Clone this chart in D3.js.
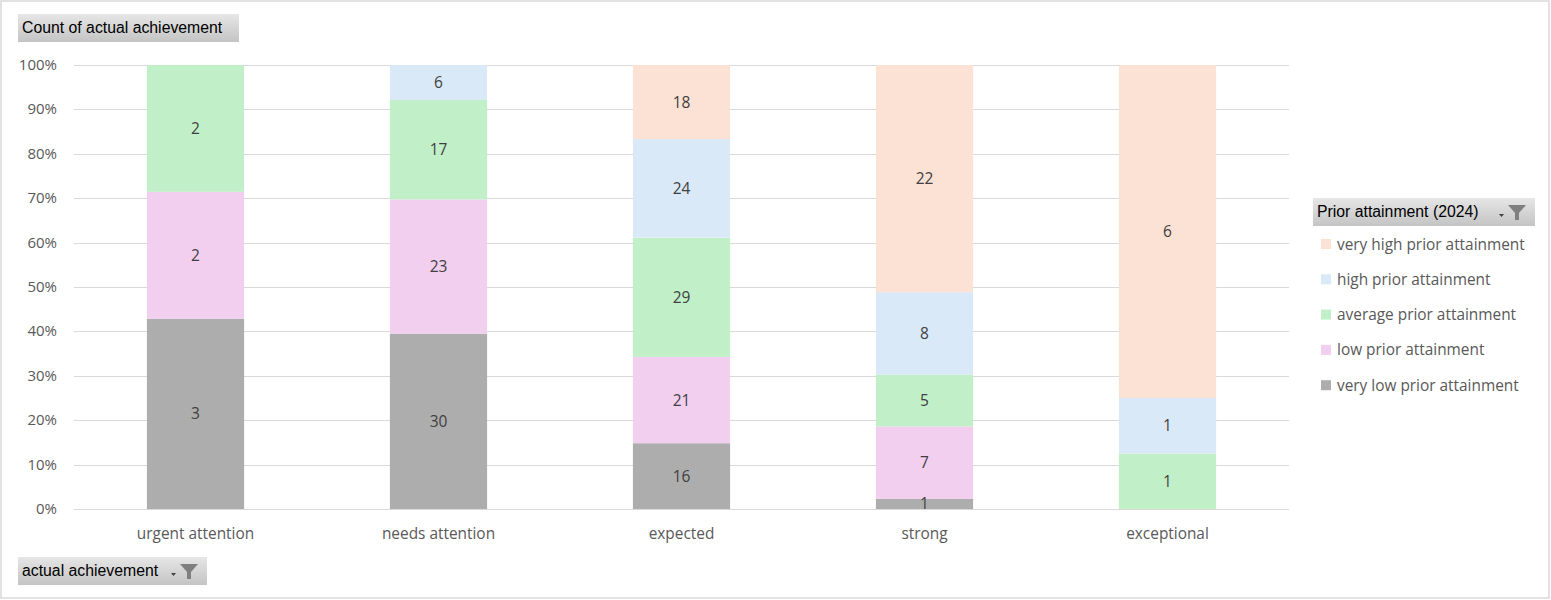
<!DOCTYPE html>
<html><head><meta charset="utf-8">
<script src="https://cdn.jsdelivr.net/npm/d3@7"></script>
<style>body{margin:0;background:#fff;}svg{display:block;font-family:"Open Sans","Noto Sans",sans-serif;}</style>
</head><body><svg id="c" width="1551" height="600"></svg>
<script>
const categories = ["urgent attention","needs attention","expected","strong","exceptional"];
const seriesNames = ["very low prior attainment","low prior attainment","average prior attainment","high prior attainment","very high prior attainment"];
const veryLow  = [3,30,16,1,0];
const low      = [2,23,21,7,0];
const average  = [2,17,29,5,1];
const high     = [0,6,24,8,1];
const veryHigh = [0,0,18,22,6];
const yTicks = [0,0.1,0.2,0.3,0.4,0.5,0.6,0.7,0.8,0.9,1];
const colors = ["#adadad","#f2ceef","#c1f0c8","#dae9f8","#fbe2d5"];

const svg = d3.select("#c");
const defs = svg.append("defs");
const g1 = defs.append("linearGradient").attr("id","btn").attr("x1",0).attr("y1",0).attr("x2",0).attr("y2",1);
g1.append("stop").attr("offset","0%").attr("stop-color","#e6e6e6");
g1.append("stop").attr("offset","100%").attr("stop-color","#c4c4c4");

svg.append("rect").attr("x",1).attr("y",1).attr("width",1548).attr("height",597)
  .attr("fill","#fff").attr("stroke","#d9d9d9").attr("stroke-width",1.5);

const L=74,R=1289,T=65,B=509;
const x = d3.scaleBand().domain(categories).range([L,R]).paddingInner(0.6).paddingOuter(0.3);
const y = d3.scaleLinear().domain([0,1]).range([B,T]);

// gridlines
svg.append("g").selectAll("line").data(yTicks).join("line")
  .attr("x1",L).attr("x2",R).attr("y1",d=>Math.round(y(d))+0.5).attr("y2",d=>Math.round(y(d))+0.5)
  .attr("stroke","#d9d9d9").attr("stroke-width",1);
svg.append("g").selectAll("text").data(yTicks).join("text")
  .attr("x",57).attr("y",d=>y(d)+5).attr("text-anchor","end")
  .attr("font-size",15).attr("fill","#595959").text(d=>d3.format(".0%")(d));

const rows = categories.map((c,i)=>{
  const o={cat:c};
  [veryLow,low,average,high,veryHigh].forEach((arr,k)=>o[seriesNames[k]]=arr[i]);
  return o;
});
const stack = d3.stack().keys(seriesNames).offset(d3.stackOffsetExpand)(rows);

const gs = svg.append("g").selectAll("g").data(stack).join("g").attr("fill",(d,i)=>colors[i]);
gs.selectAll("rect").data(d=>d.map(p=>({p,key:d.key}))).join("rect")
  .attr("x",d=>x(d.p.data.cat)).attr("width",x.bandwidth())
  .attr("y",d=>y(d.p[1])).attr("height",d=>Math.max(0,y(d.p[0])-y(d.p[1])));

const labels = svg.append("g");
stack.forEach(s=>{
  s.forEach(p=>{
    const v = p.data[s.key];
    if(!v) return;
    labels.append("text").attr("x",x(p.data.cat)+x.bandwidth()/2).attr("y",(y(p[0])+y(p[1]))/2+5.5)
      .attr("text-anchor","middle").attr("font-size",15.5).attr("fill","#404040").text(v);
  });
});

// category axis
svg.append("g").selectAll("text").data(categories).join("text")
  .attr("x",d=>x(d)+x.bandwidth()/2).attr("y",539).attr("text-anchor","middle")
  .attr("font-size",15.4).attr("fill","#595959").text(d=>d);

// buttons
function button(x0,y0,w,h,label,filter){
  svg.append("rect").attr("x",x0).attr("y",y0).attr("width",w).attr("height",h).attr("fill","url(#btn)");
  svg.append("text").attr("x",x0+4).attr("y",y0+19).attr("font-family","'Liberation Sans Narrow','Liberation Sans',sans-serif")
    .attr("font-size",15.8).attr("fill","#000").text(label);
  if(filter){
    const fx=x0+w-27, fy=y0+7;
    svg.append("path").attr("d",`M${fx-9},${fy+9} l5,0 l-2.5,3 z`).attr("fill","#404040");
    svg.append("path").attr("d",`M${fx},${fy} L${fx+18},${fy} L${fx+11},${fy+8} L${fx+11},${fy+15} L${fx+7},${fy+15} L${fx+7},${fy+8} Z`).attr("fill","#7f7f7f");
  }
}
button(18,14,221,28,"Count of actual achievement",false);
button(18,557,189,28,"actual achievement",true);
button(1313,198,222,28,"Prior attainment (2024)",true);

// legend
const legendOrder = [4,3,2,1,0];
const lg = svg.append("g").selectAll("g").data(legendOrder).join("g")
  .attr("transform",(d,i)=>`translate(1321,${239+i*35.3})`);
lg.append("rect").attr("width",10).attr("height",10).attr("fill",d=>colors[d]);
lg.append("text").attr("x",16).attr("y",10.5).attr("font-size",15.4).attr("fill","#595959").text(d=>seriesNames[d]);
</script></body></html>
